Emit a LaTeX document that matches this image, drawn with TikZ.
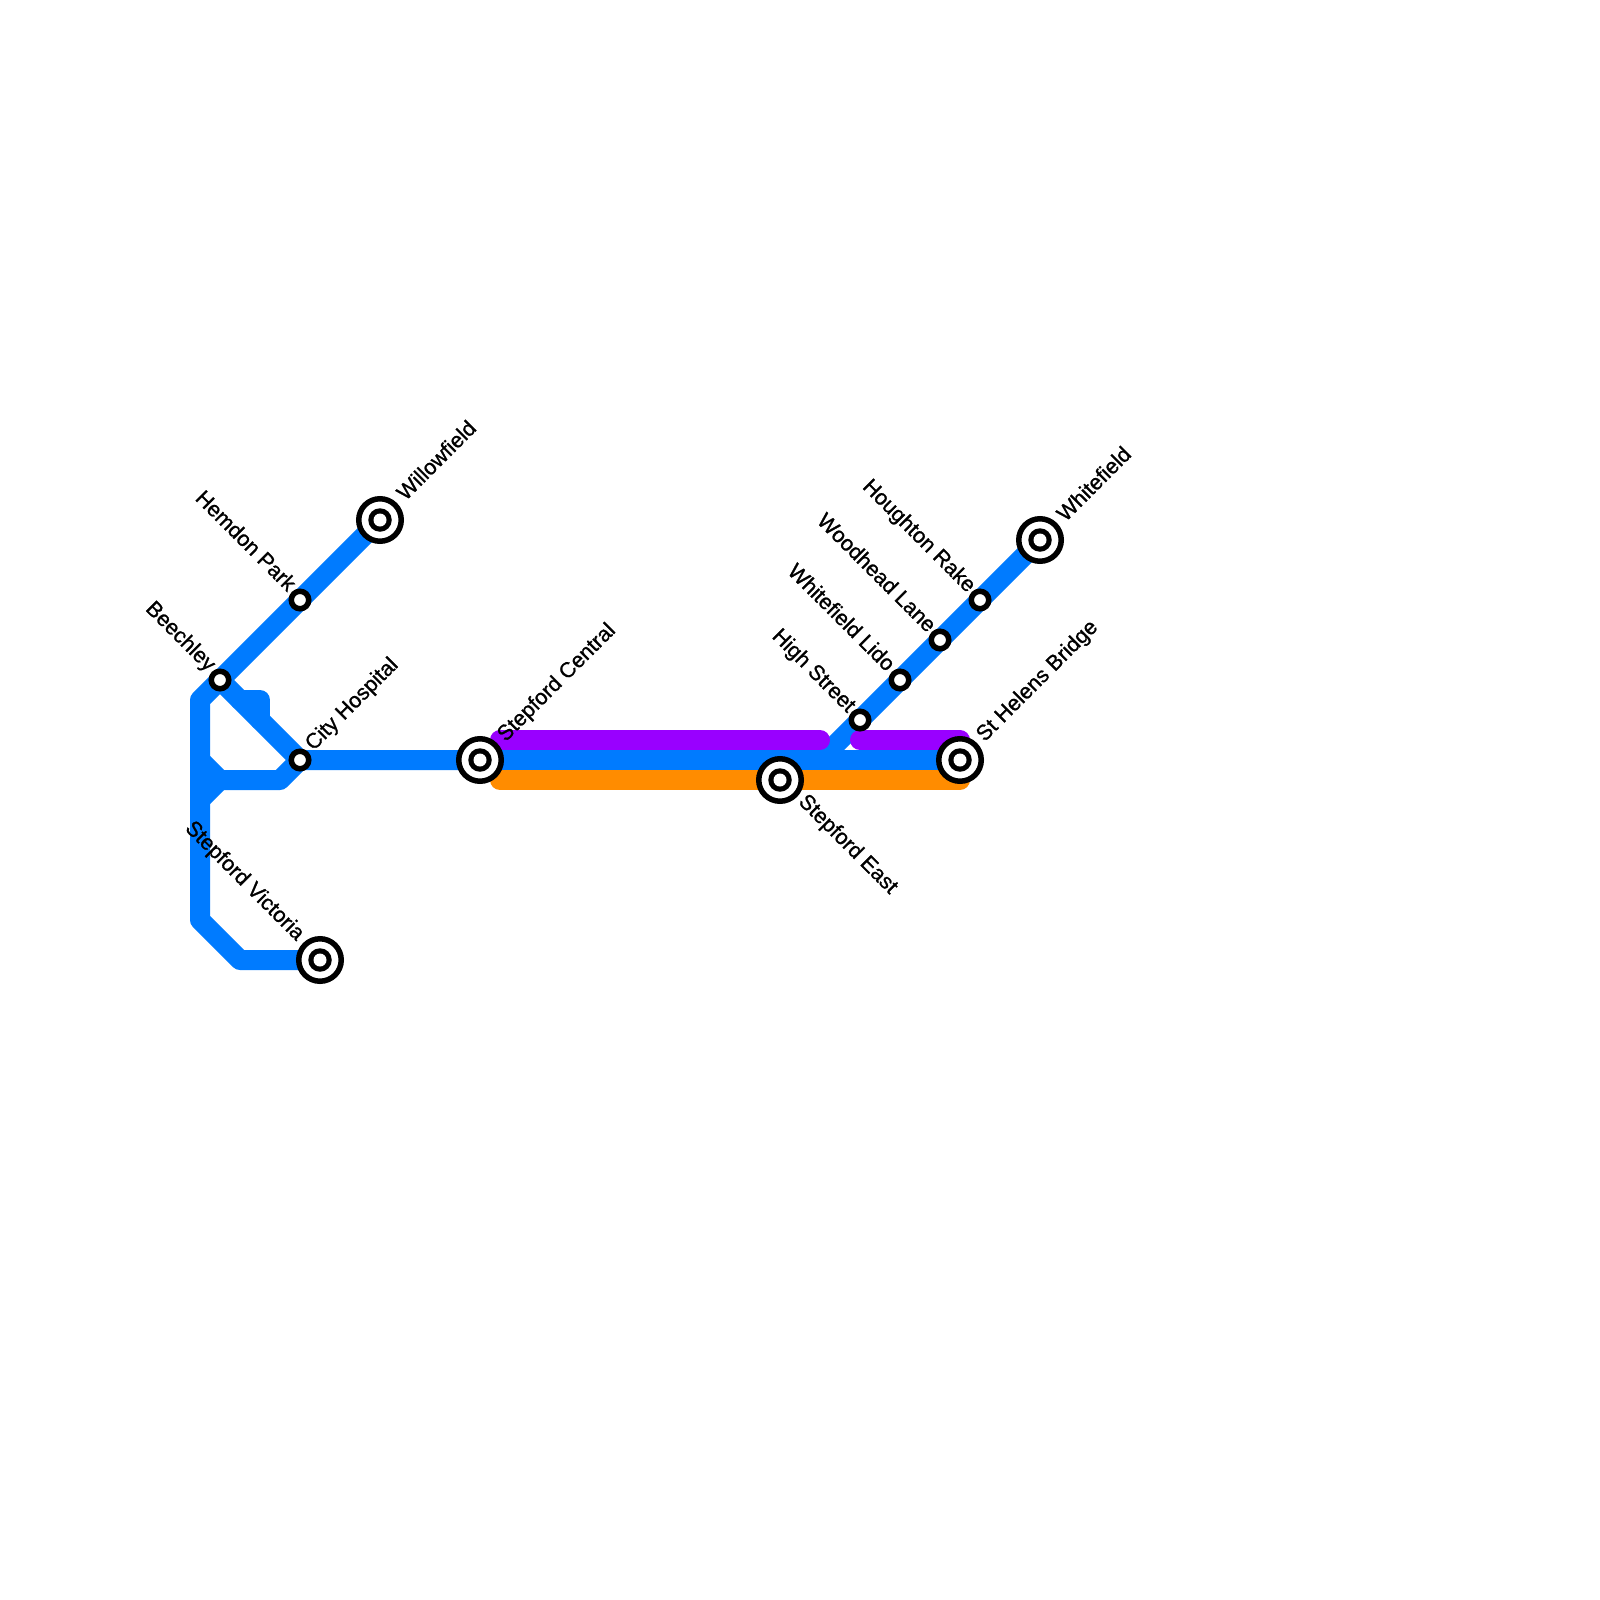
\documentclass[tikz,border=0pt]{standalone}
\usepackage{fontspec}
\newfontfamily\labfont{Liberation Sans}[FakeBold=1.0]
\tikzset{
  track/.style={line width=20pt,line cap=round,line join=round},
  stopmark/.style={circle,draw=black,fill=white,line width=5.5pt,minimum size=17.5pt,inner sep=0pt,outer sep=0pt},
  hubmark/.style={circle,draw=black,fill=white,line width=5.5pt,minimum size=42.5pt,inner sep=0pt,outer sep=0pt,
    path picture={\fill[black] (path picture bounding box.center) circle (11.75pt);\fill[white] (path picture bounding box.center) circle (6.5pt);}},
  lab/.style={font=\labfont\fontsize{21.5pt}{24pt}\selectfont,inner sep=0pt,text=black,draw=none},
  labne/.style={lab,rotate=45,anchor=mid west},
  labnw/.style={lab,rotate=-45,anchor=mid east},
  labse/.style={lab,rotate=-45,anchor=mid west}
}
\definecolor{lineblue}{HTML}{007BFF}
\definecolor{linepurple}{HTML}{9900FF}
\definecolor{lineorange}{HTML}{FF8C00}
\begin{document}
\begin{tikzpicture}[x=1pt,y=-1pt]
\useasboundingbox (0,0) rectangle (1600,1600);
\fill[white] (0,0) rectangle (1600,1600);
% bends
\coordinate (b1) at (200,700);
\coordinate (b2) at (200,920);
\coordinate (b3) at (240,960);
\coordinate (b4) at (280,780);
\coordinate (b5) at (220,780);
\coordinate (b6) at (200,760);
\coordinate (b7) at (200,800);
\coordinate (s1) at (240,700);
\coordinate (s2) at (260,700);
\coordinate (s3) at (260,720);
\coordinate (j1) at (820,760);
\coordinate (p1) at (500,740);
\coordinate (p2) at (820,740);
\coordinate (p3) at (860,740);
\coordinate (p4) at (960,740);
\coordinate (o1) at (500,780);
\coordinate (o2) at (960,780);
% stations
\coordinate (Wp) at (380,520);
\coordinate (Hp) at (300,600);
\coordinate (Bp) at (220,680);
\coordinate (Cp) at (300,760);
\coordinate (Sp) at (480,760);
\coordinate (Ep) at (780,780);
\coordinate (Np) at (960,760);
\coordinate (Fp) at (1040,540);
\coordinate (Rp) at (980,600);
\coordinate (Lp) at (940,640);
\coordinate (Dp) at (900,680);
\coordinate (Tp) at (860,720);
\coordinate (Vp) at (320,960);
% lines
\draw[track,lineblue] (Wp) -- (b1) -- (b2) -- (b3) -- (Vp);
\draw[track,lineblue] (Bp) -- (Cp) -- (Np);
\draw[track,lineblue] (Cp) -- (b4) -- (b5) -- (b1 |- b5);
\draw[track,lineblue] (b6) -- (b5) -- (b7);
\draw[track,lineblue] (s1) -- (s2) -- (s3);
\draw[track,lineblue] (Fp) -- (j1);
\draw[track,lineorange] (o1) -- (o2);
\draw[track,linepurple] (p1) -- (p2);
\draw[track,linepurple] (p3) -- (p4);
% markers
\node[hubmark] (Willowfield) at (Wp) {};
\node[stopmark] (Hemdon) at (Hp) {};
\node[stopmark] (Beechley) at (Bp) {};
\node[stopmark] (City) at (Cp) {};
\node[hubmark] (Central) at (Sp) {};
\node[hubmark] (East) at (Ep) {};
\node[hubmark] (Helens) at (Np) {};
\node[hubmark] (Whitefield) at (Fp) {};
\node[stopmark] (Rake) at (Rp) {};
\node[stopmark] (Lane) at (Lp) {};
\node[stopmark] (Lido) at (Dp) {};
\node[stopmark] (High) at (Tp) {};
\node[hubmark] (Victoria) at (Vp) {};
% labels
\node[labne] (t1) at ([shift={(24,-20)}]Wp) {Willowfield};
\node[labnw] (t2) at ([shift={(-11,-9)}]Hp) {Hemdon Park};
\node[labnw] (t3) at ([shift={(-11,-9)}]Bp) {Beechley};
\node[labne] (t4) at ([shift={(12,-10)}]Cp) {City Hospital};
\node[labne] (t5) at ([shift={(24,-19)}]Sp) {Stepford Central};
\node[labse] (t6) at ([shift={(19,21)}]Ep) {Stepford East};
\node[labne] (t7) at ([shift={(23,-19)}]Np) {St Helens Bridge};
\node[labne] (t8) at ([shift={(24,-19)}]Fp) {Whitefield};
\node[labnw] (t9) at ([shift={(-11,-8)}]Rp) {Houghton Rake};
\node[labnw] (t10) at ([shift={(-11,-8)}]Lp) {Woodhead Lane};
\node[labnw] (t11) at ([shift={(-12,-9)}]Dp) {Whitefield Lido};
\node[labnw] (t12) at ([shift={(-11,-8)}]Tp) {High Street};
\node[labnw] (t13) at ([shift={(-22,-20)}]Vp) {Stepford Victoria};
\end{tikzpicture}
\end{document}
